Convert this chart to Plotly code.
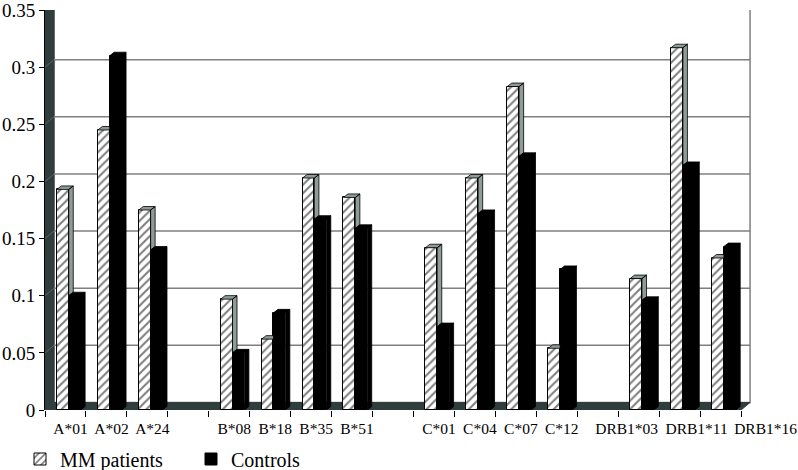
import plotly.graph_objects as go

alleles = ["A*01", "A*02", "A*24",
           "B*08", "B*18", "B*35", "B*51",
           "C*01", "C*04", "C*07", "C*12",
           "DRB1*03", "DRB1*11", "DRB1*16"]
mm_patients = [0.193, 0.245, 0.175,
               0.097, 0.062, 0.203, 0.186,
               0.142, 0.203, 0.283, 0.054,
               0.115, 0.317, 0.133]
controls = [0.100, 0.310, 0.140,
            0.050, 0.085, 0.167, 0.159,
            0.073, 0.172, 0.222, 0.123,
            0.096, 0.214, 0.143]
y_ticks = [0, 0.05, 0.1, 0.15, 0.2, 0.25, 0.3, 0.35]
y_ticklabels = ["0", "0.05", "0.1", "0.15", "0.2", "0.25", "0.3", "0.35"]

# one empty slot between loci, like the original Excel chart
pos = []
slot = 0
prev = None
for a in alleles:
    locus = a.split("*")[0]
    if prev is not None and locus != prev:
        slot += 1
    pos.append(slot)
    slot += 1
    prev = locus
n_slots = slot

W, H = 798, 470
ML, MT, MB = 45, 10, 60
ux = 696 / n_slots           # pixels per category slot
PW = ux * (n_slots + 1)      # one extra slot of room for the last label
MR = W - ML - PW
PH = H - MT - MB
YMAX = 0.35
uy = PH / YMAX
XL, XR = -0.5, n_slots - 0.5

# 3d look: bar depth and wall depth, in data units
bdx, bdy = 4.5 / ux, 3.5 / uy
wdx, wdy = 9 / ux, 7.5 / uy
MM_OFF, CT_OFF, BW = -0.21, 0.08, 0.29

# Excel spread the long DRB labels apart (pixels)
label_nudge = {"DRB1*03": -17, "DRB1*11": 12, "DRB1*16": 40}
tick_x = [p + label_nudge.get(a, 0) / ux for p, a in zip(pos, alleles)]

wall = "#2f3d3d"
grid = "#7f7f7f"
serif = "Liberation Serif, Times New Roman, Times, serif"

fig = go.Figure()
fig.add_trace(go.Bar(
    x=pos, y=mm_patients, width=BW, offset=MM_OFF, name="MM patients",
    marker=dict(color="white",
                pattern=dict(shape="/", fgcolor="black", bgcolor="white", size=6, solidity=0.35),
                line=dict(color="black", width=1)),
))
fig.add_trace(go.Bar(
    x=pos, y=controls, width=BW, offset=CT_OFF, name="Controls",
    marker=dict(color="black", line=dict(color="black", width=1)),
))

# side and top faces of the bars
mx, my, cx, cy = [], [], [], []
for p, v, c in zip(pos, mm_patients, controls):
    m0, m1 = p + MM_OFF, p + MM_OFF + BW
    if c < v:
        pts = [(m0, v), (m1, v), (m1 + bdx, v + bdy), (m0 + bdx, v + bdy)]
        pts2 = [(m1, c), (m1, v), (m1 + bdx, v + bdy), (m1 + bdx, c + bdy)]
    else:
        pts = [(m0, v), (m1, v), (m1, v + bdy), (m0 + bdx, v + bdy)]
        pts2 = []
    for poly in (pts, pts2):
        if poly:
            poly = poly + [poly[0]]
            mx += [q[0] for q in poly] + [None]
            my += [q[1] for q in poly] + [None]
    c0, c1 = p + CT_OFF, p + CT_OFF + BW
    for poly in ([(c0, c), (c1, c), (c1 + bdx, c + bdy), (c0 + bdx, c + bdy)],
                 [(c1, 0), (c1, c), (c1 + bdx, c + bdy), (c1 + bdx, bdy)]):
        poly = poly + [poly[0]]
        cx += [q[0] for q in poly] + [None]
        cy += [q[1] for q in poly] + [None]

fig.add_trace(go.Scatter(x=mx, y=my, mode="lines", fill="toself", fillcolor="#8e9c98",
                         line=dict(color="black", width=0.8), showlegend=False, hoverinfo="skip"))
fig.add_trace(go.Scatter(x=cx, y=cy, mode="lines", fill="toself", fillcolor="black",
                         line=dict(color="black", width=0.8), showlegend=False, hoverinfo="skip"))

# walls, floor and gridlines on the back wall
shapes = [
    dict(type="rect", xref="x", yref="y", x0=XL + wdx, x1=XR + wdx, y0=wdy, y1=YMAX + wdy,
         fillcolor="white", line=dict(color=grid, width=1.5), layer="below"),
    dict(type="path", xref="x", yref="y",
         path=f"M {XL},0 L {XL},{YMAX} L {XL + wdx},{YMAX + wdy} L {XL + wdx},{wdy} Z",
         fillcolor=wall, line=dict(color=wall, width=1), layer="below"),
    dict(type="path", xref="x", yref="y",
         path=f"M {XL},0 L {XR},0 L {XR + wdx},{wdy} L {XL + wdx},{wdy} Z",
         fillcolor=wall, line=dict(color=wall, width=1), layer="below"),
]
for t in y_ticks[1:-1]:
    shapes.append(dict(type="line", xref="x", yref="y", x0=XL + wdx, x1=XR + wdx,
                       y0=t + wdy, y1=t + wdy, line=dict(color=grid, width=1.5), layer="below"))
    shapes.append(dict(type="line", xref="x", yref="y", x0=XL, x1=XL + wdx,
                       y0=t, y1=t + wdy, line=dict(color="#5a6666", width=1), layer="below"))

fig.update_layout(
    width=W, height=H,
    margin=dict(l=ML, r=MR, t=MT, b=MB, autoexpand=False),
    paper_bgcolor="white", plot_bgcolor="rgba(0,0,0,0)",
    font=dict(family=serif, color="black"),
    shapes=shapes,
    showlegend=True,
    legend=dict(orientation="h", xref="container", yref="container",
                x=20 / W, xanchor="left", y=(H - 459) / H, yanchor="middle",
                bgcolor="rgba(0,0,0,0)",
                font=dict(family=serif, size=20), entrywidth=126, traceorder="normal"),
    bargap=0,
)
fig.update_xaxes(
    range=[XL, XR + 1], tickvals=tick_x, ticktext=alleles, ticks="", tickangle=0,
    tickfont=dict(family=serif, size=15.5), ticklabelshift=5, ticklabelstandoff=7,
    ticklabeloverflow="allow",
    showgrid=False, zeroline=False, showline=False,
    automargin=False,
    minor=dict(tickvals=[k - 0.5 for k in range(n_slots + 1)], ticks="outside",
               ticklen=6, tickcolor="black", tickwidth=1, showgrid=False),
)
fig.update_yaxes(
    range=[0, YMAX], tickvals=y_ticks, ticktext=y_ticklabels, ticks="outside",
    ticklen=5, tickcolor="black", tickfont=dict(family=serif, size=19),
    ticklabeloverflow="allow",
    showgrid=False, zeroline=False, showline=True, linecolor="black", linewidth=1,
    automargin=False,
)

# the page's default 8px body margin would push the chart off the window
fig.write_html("out.html", config={"displayModeBar": False},
               post_script="document.body.style.margin = '0';")
